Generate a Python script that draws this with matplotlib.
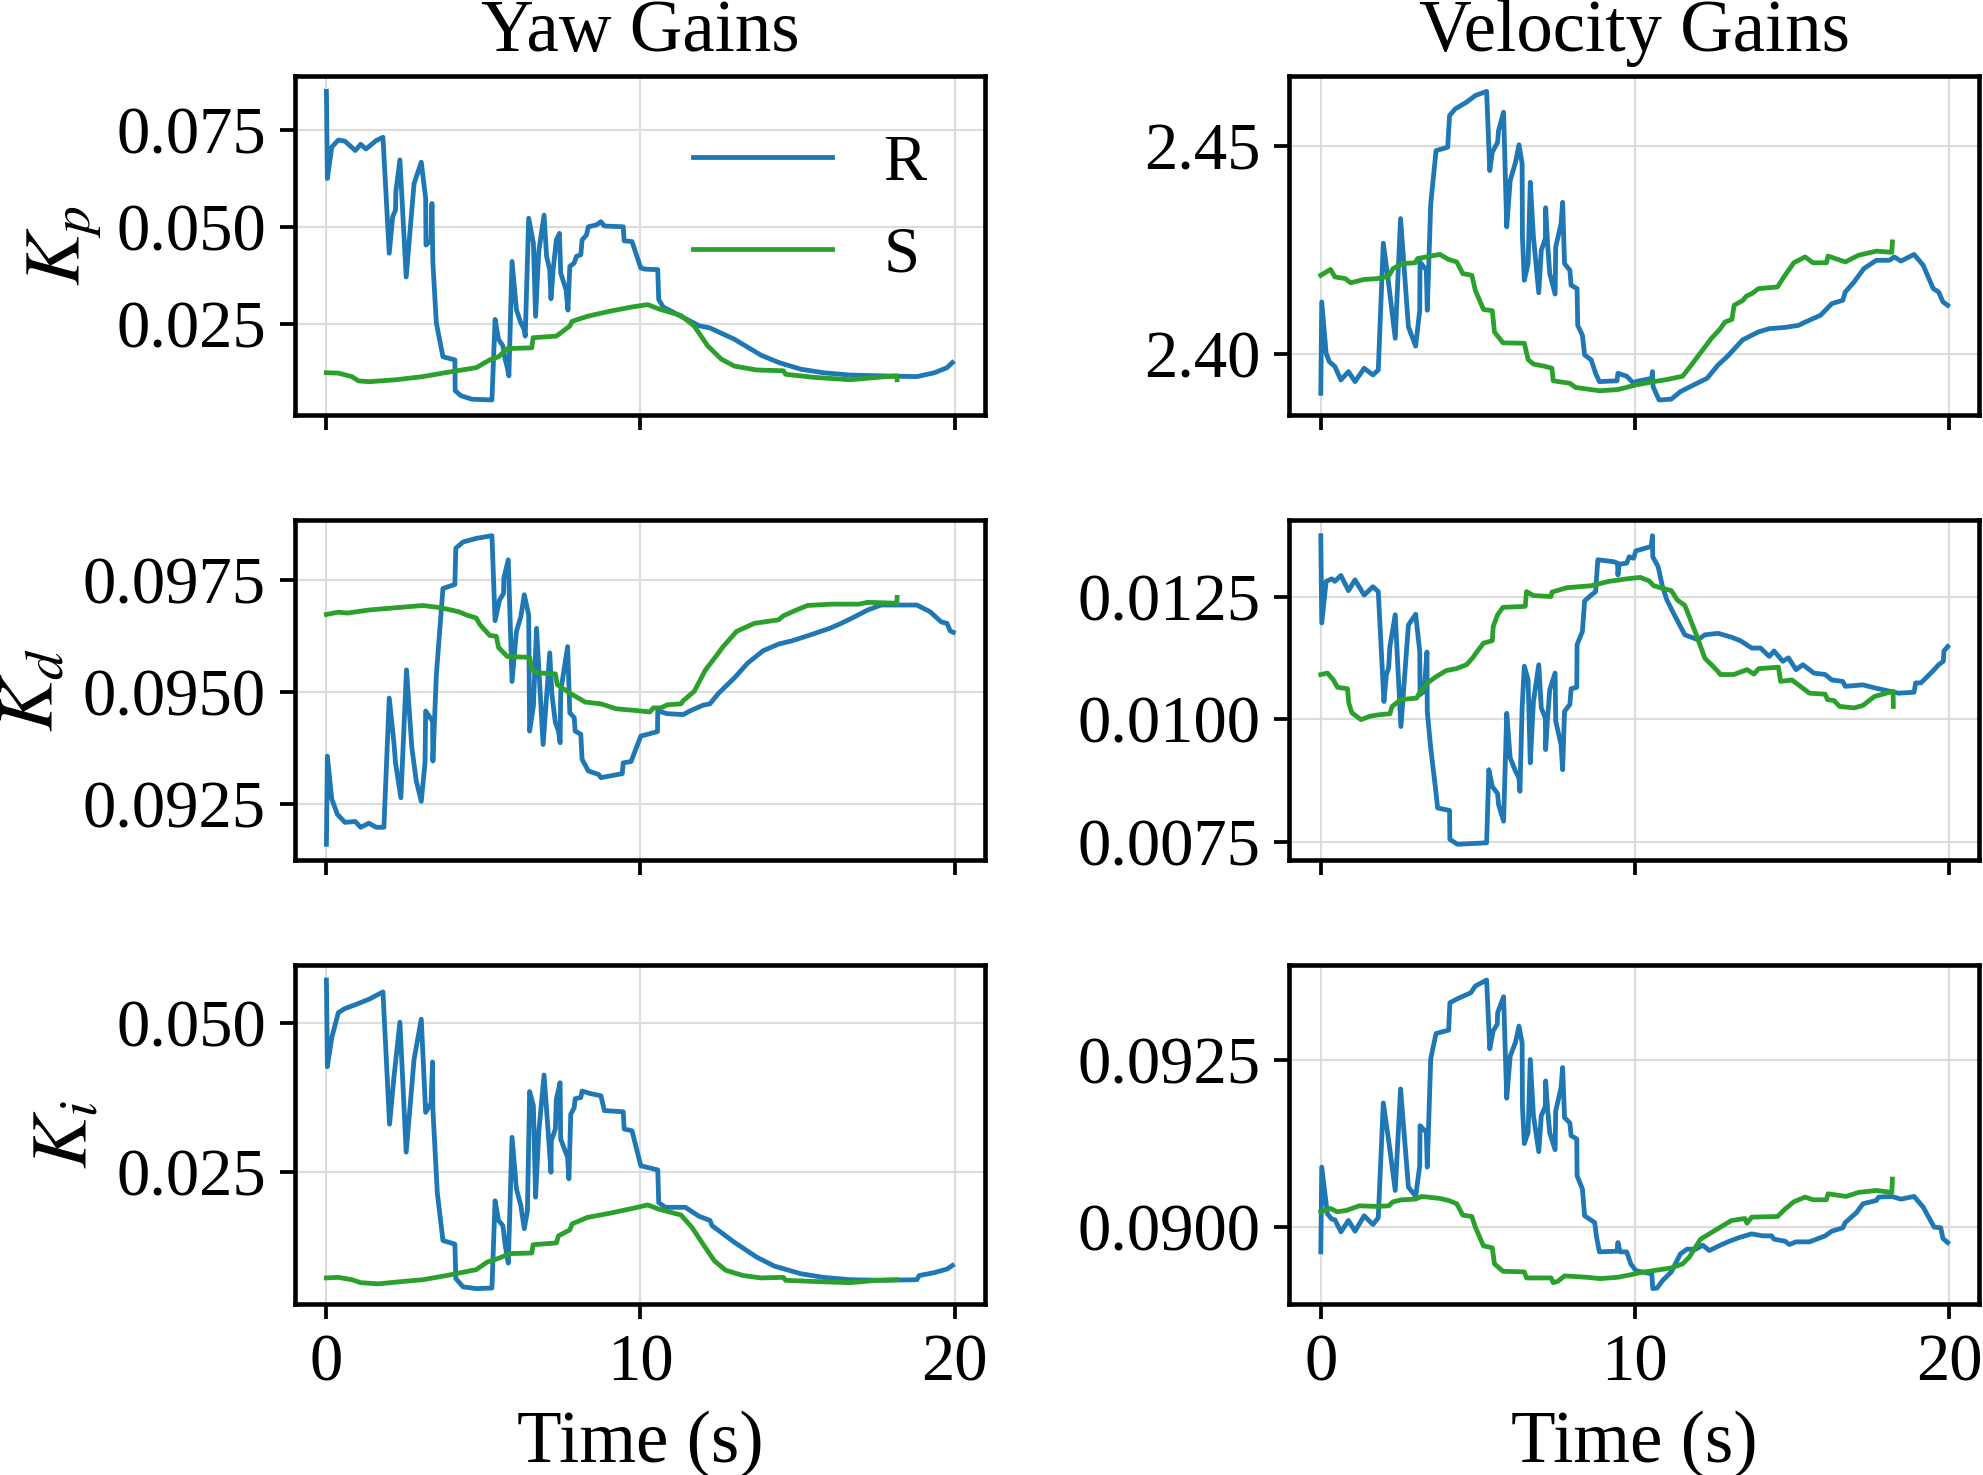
import numpy as np
import matplotlib
matplotlib.use("Agg")
from matplotlib import pyplot as plt

plt.rcParams['font.family'] = 'serif'
plt.rcParams['font.serif'] = ['Liberation Serif', 'DejaVu Serif']
plt.rcParams['mathtext.fontset'] = 'stix'

# (time [s], gain) pairs
yaw_kp_r = np.array([
    [0.00, 0.0849], [0.03, 0.0625], [0.17, 0.0706], [0.38, 0.0724], [0.59, 0.0721], [0.92, 0.0697],
    [1.09, 0.0713], [1.26, 0.0701], [1.59, 0.0723], [1.80, 0.0731], [2.00, 0.0433], [2.11, 0.0527],
    [2.20, 0.0544], [2.21, 0.0591], [2.34, 0.0673], [2.54, 0.0372], [2.79, 0.0612], [3.02, 0.0667],
    [3.16, 0.0574], [3.17, 0.0454], [3.33, 0.0467], [3.36, 0.0561], [3.39, 0.0408], [3.50, 0.0254],
    [3.71, 0.0167], [4.09, 0.0159], [4.10, 0.0080], [4.28, 0.0067], [4.63, 0.0058], [5.27, 0.0056],
    [5.37, 0.0263], [5.48, 0.0212], [5.62, 0.0195], [5.69, 0.0161], [5.76, 0.0139], [5.81, 0.0118],
    [5.91, 0.0412], [6.05, 0.0288], [6.19, 0.0254], [6.30, 0.0237], [6.33, 0.0220], [6.44, 0.0523],
    [6.59, 0.0459], [6.66, 0.0271], [6.76, 0.0437], [6.93, 0.0531], [7.01, 0.0425], [7.11, 0.0391],
    [7.15, 0.0316], [7.22, 0.0391], [7.32, 0.0467], [7.42, 0.0484], [7.46, 0.0382], [7.63, 0.0339],
    [7.69, 0.0287], [7.75, 0.0399], [7.89, 0.0408], [7.96, 0.0425], [8.10, 0.0429], [8.14, 0.0467],
    [8.28, 0.0480], [8.34, 0.0501], [8.60, 0.0506], [8.74, 0.0514], [8.85, 0.0503], [9.45, 0.0501],
    [9.48, 0.0465], [9.73, 0.0463], [10.01, 0.0395], [10.16, 0.0392], [10.55, 0.0391], [10.58, 0.0314],
    [10.72, 0.0295], [11.29, 0.0271], [11.86, 0.0247], [12.21, 0.0241], [12.99, 0.0212], [13.84, 0.0171],
    [14.41, 0.0152], [15.11, 0.0135], [15.82, 0.0126], [16.67, 0.0120], [17.66, 0.0118], [18.80, 0.0116],
    [19.36, 0.0126], [19.76, 0.0139], [19.93, 0.0152]])
yaw_kp_s = np.array([
    [0.00, 0.0126], [0.38, 0.0125], [0.81, 0.0116], [1.02, 0.0105], [1.37, 0.0103], [2.22, 0.0108],
    [3.07, 0.0116], [3.92, 0.0128], [4.77, 0.0139], [5.20, 0.0159], [5.48, 0.0167], [5.76, 0.0188],
    [6.54, 0.0190], [6.58, 0.0216], [7.32, 0.0220], [7.75, 0.0246], [7.82, 0.0258], [8.31, 0.0271],
    [9.02, 0.0284], [9.73, 0.0295], [10.23, 0.0301], [10.58, 0.0290], [11.29, 0.0273], [11.71, 0.0246],
    [12.14, 0.0195], [12.57, 0.0161], [12.99, 0.0143], [13.70, 0.0133], [14.55, 0.0131], [14.62, 0.0122],
    [15.54, 0.0114], [16.67, 0.0108], [17.52, 0.0114], [18.16, 0.0118], [18.17, 0.0108]])

vel_kp_r = np.array([
    [0.00, 2.3906], [0.03, 2.4125], [0.17, 2.4002], [0.27, 2.3982], [0.45, 2.3970], [0.64, 2.3938],
    [0.88, 2.3958], [1.09, 2.3934], [1.38, 2.3966], [1.66, 2.3950], [1.83, 2.3962], [1.99, 2.4266],
    [2.16, 2.4169], [2.37, 2.4038], [2.54, 2.4325], [2.79, 2.4065], [3.02, 2.4019], [3.15, 2.4105],
    [3.16, 2.4221], [3.36, 2.4201], [3.39, 2.4105], [3.50, 2.4360], [3.67, 2.4488], [4.04, 2.4496],
    [4.10, 2.4572], [4.28, 2.4588], [4.64, 2.4604], [4.92, 2.4620], [5.28, 2.4630], [5.38, 2.4440],
    [5.46, 2.4484], [5.63, 2.4508], [5.66, 2.4536], [5.82, 2.4580], [5.92, 2.4305], [6.03, 2.4416],
    [6.20, 2.4460], [6.31, 2.4502], [6.41, 2.4456], [6.42, 2.4281], [6.48, 2.4177], [6.60, 2.4217],
    [6.67, 2.4412], [6.77, 2.4281], [6.94, 2.4147], [7.02, 2.4249], [7.15, 2.4277], [7.16, 2.4351],
    [7.22, 2.4265], [7.29, 2.4193], [7.46, 2.4144], [7.48, 2.4257], [7.65, 2.4313], [7.70, 2.4364],
    [7.76, 2.4217], [7.93, 2.4201], [7.97, 2.4165], [8.16, 2.4157], [8.18, 2.4069], [8.33, 2.4045],
    [8.40, 2.3998], [8.61, 2.3986], [8.75, 2.3954], [8.87, 2.3934], [9.43, 2.3936], [9.46, 2.3954],
    [9.74, 2.3947], [9.96, 2.3930], [10.03, 2.3934], [10.54, 2.3942], [10.56, 2.3958], [10.58, 2.3922],
    [10.77, 2.3890], [11.16, 2.3892], [11.45, 2.3910], [11.87, 2.3926], [12.30, 2.3942], [12.65, 2.3974],
    [12.94, 2.3994], [13.43, 2.4034], [13.93, 2.4053], [14.28, 2.4061], [14.78, 2.4064], [15.21, 2.4069],
    [15.43, 2.4077], [15.91, 2.4093], [16.27, 2.4121], [16.62, 2.4129], [16.70, 2.4149], [16.98, 2.4173],
    [17.29, 2.4205], [17.69, 2.4225], [18.11, 2.4225], [18.26, 2.4233], [18.47, 2.4223], [18.89, 2.4239],
    [19.18, 2.4213], [19.50, 2.4157], [19.67, 2.4149], [19.81, 2.4125], [19.96, 2.4117]])
vel_kp_s = np.array([
    [0.00, 2.4189], [0.31, 2.4203], [0.45, 2.4185], [0.78, 2.4181], [0.95, 2.4171], [1.38, 2.4179],
    [1.80, 2.4181], [2.16, 2.4187], [2.30, 2.4205], [2.58, 2.4217], [3.01, 2.4219], [3.08, 2.4229],
    [3.36, 2.4233], [3.79, 2.4239], [4.07, 2.4227], [4.33, 2.4221], [4.52, 2.4193], [4.81, 2.4189],
    [4.92, 2.4153], [5.18, 2.4107], [5.46, 2.4104], [5.53, 2.4053], [5.80, 2.4027], [6.48, 2.4026],
    [6.60, 2.3987], [6.77, 2.3976], [7.12, 2.3971], [7.36, 2.3966], [7.40, 2.3936], [7.93, 2.3930],
    [8.11, 2.3920], [8.89, 2.3912], [9.46, 2.3915], [10.03, 2.3926], [10.60, 2.3934], [11.02, 2.3939],
    [11.52, 2.3947], [11.80, 2.3974], [12.16, 2.4010], [12.44, 2.4038], [12.70, 2.4059], [12.87, 2.4077],
    [13.09, 2.4083], [13.16, 2.4117], [13.44, 2.4129], [13.55, 2.4139], [13.72, 2.4145], [13.94, 2.4157],
    [14.54, 2.4161], [14.78, 2.4189], [15.06, 2.4219], [15.42, 2.4233], [15.67, 2.4219], [16.10, 2.4219],
    [16.15, 2.4235], [16.70, 2.4221], [17.12, 2.4237], [17.69, 2.4247], [18.18, 2.4244], [18.20, 2.4269]])

yaw_kd_r = np.array([
    [0.00, 0.09159], [0.03, 0.09356], [0.17, 0.09260], [0.35, 0.09226], [0.59, 0.09208], [0.92, 0.09210],
    [1.09, 0.09197], [1.35, 0.09206], [1.59, 0.09197], [1.83, 0.09197], [2.00, 0.09486], [2.15, 0.09386],
    [2.20, 0.09341], [2.37, 0.09263], [2.55, 0.09549], [2.72, 0.09375], [2.86, 0.09301], [3.02, 0.09255],
    [3.14, 0.09341], [3.16, 0.09457], [3.38, 0.09434], [3.39, 0.09345], [3.50, 0.09538], [3.71, 0.09731],
    [4.09, 0.09740], [4.12, 0.09821], [4.35, 0.09835], [4.77, 0.09843], [5.27, 0.09849], [5.37, 0.09659],
    [5.51, 0.09705], [5.64, 0.09720], [5.65, 0.09754], [5.79, 0.09795], [5.91, 0.09523], [6.05, 0.09635],
    [6.19, 0.09668], [6.30, 0.09717], [6.44, 0.09672], [6.47, 0.09412], [6.59, 0.09468], [6.69, 0.09642],
    [6.90, 0.09382], [7.11, 0.09587], [7.18, 0.09494], [7.29, 0.09431], [7.39, 0.09412], [7.44, 0.09386],
    [7.46, 0.09501], [7.68, 0.09601], [7.75, 0.09453], [7.89, 0.09442], [7.92, 0.09412], [8.10, 0.09405],
    [8.14, 0.09349], [8.34, 0.09323], [8.67, 0.09315], [8.74, 0.09308], [9.42, 0.09317], [9.45, 0.09341],
    [9.70, 0.09344], [10.01, 0.09401], [10.23, 0.09405], [10.54, 0.09411], [10.55, 0.09457], [10.86, 0.09451],
    [11.36, 0.09449], [11.57, 0.09457], [11.99, 0.09470], [12.21, 0.09473], [12.49, 0.09497], [12.99, 0.09531],
    [13.41, 0.09564], [13.91, 0.09592], [14.41, 0.09607], [14.83, 0.09614], [15.40, 0.09627], [16.03, 0.09642],
    [16.39, 0.09653], [16.74, 0.09665], [17.24, 0.09683], [17.66, 0.09694], [18.80, 0.09694], [19.22, 0.09679],
    [19.58, 0.09656], [19.76, 0.09653], [19.86, 0.09636], [19.96, 0.09633]])
yaw_kd_s = np.array([
    [0.00, 0.09673], [0.38, 0.09678], [0.66, 0.09676], [1.37, 0.09683], [2.22, 0.09688], [3.07, 0.09693],
    [3.64, 0.09688], [4.21, 0.09679], [4.49, 0.09671], [4.77, 0.09665], [4.89, 0.09650], [5.20, 0.09626],
    [5.41, 0.09624], [5.48, 0.09599], [5.76, 0.09579], [6.47, 0.09577], [6.54, 0.09549], [6.76, 0.09542],
    [7.29, 0.09540], [7.35, 0.09516], [7.75, 0.09497], [8.24, 0.09477], [8.74, 0.09473], [9.23, 0.09462],
    [9.87, 0.09458], [10.30, 0.09455], [10.41, 0.09464], [10.65, 0.09464], [10.86, 0.09471], [11.29, 0.09473],
    [11.36, 0.09480], [11.71, 0.09501], [12.07, 0.09549], [12.42, 0.09581], [12.63, 0.09601], [13.06, 0.09635],
    [13.62, 0.09653], [14.40, 0.09661], [14.55, 0.09670], [14.97, 0.09683], [15.32, 0.09693], [16.10, 0.09696],
    [16.95, 0.09696], [17.24, 0.09700], [18.16, 0.09698], [18.17, 0.09711]])

vel_kd_r = np.array([
    [0.00, 0.01374], [0.03, 0.01196], [0.17, 0.01281], [0.35, 0.01286], [0.45, 0.01281], [0.64, 0.01293],
    [0.88, 0.01262], [1.09, 0.01284], [1.38, 0.01253], [1.66, 0.01270], [1.83, 0.01260], [2.01, 0.01036],
    [2.09, 0.01092], [2.16, 0.01104], [2.20, 0.01148], [2.37, 0.01213], [2.55, 0.00985], [2.79, 0.01192],
    [3.02, 0.01214], [3.15, 0.01138], [3.16, 0.01050], [3.29, 0.01057], [3.38, 0.01137], [3.39, 0.01016],
    [3.50, 0.00941], [3.65, 0.00860], [3.72, 0.00819], [4.10, 0.00814], [4.11, 0.00755], [4.35, 0.00745],
    [5.28, 0.00748], [5.35, 0.00897], [5.46, 0.00863], [5.63, 0.00848], [5.66, 0.00826], [5.82, 0.00792],
    [5.92, 0.01012], [6.03, 0.00921], [6.20, 0.00894], [6.31, 0.00880], [6.34, 0.00853], [6.41, 0.01023],
    [6.48, 0.01108], [6.60, 0.01080], [6.67, 0.00911], [6.77, 0.01036], [6.94, 0.01111], [7.02, 0.01023],
    [7.15, 0.01002], [7.16, 0.00938], [7.22, 0.01002], [7.29, 0.01060], [7.46, 0.01094], [7.48, 0.00996],
    [7.65, 0.00948], [7.70, 0.00897], [7.76, 0.01016], [7.93, 0.01030], [7.97, 0.01062], [8.15, 0.01065],
    [8.16, 0.01152], [8.33, 0.01179], [8.40, 0.01241], [8.61, 0.01253], [8.75, 0.01260], [8.82, 0.01325],
    [9.32, 0.01321], [9.45, 0.01318], [9.46, 0.01294], [9.50, 0.01316], [9.74, 0.01318], [9.82, 0.01331],
    [9.96, 0.01328], [10.03, 0.01343], [10.52, 0.01352], [10.56, 0.01374], [10.57, 0.01331], [10.74, 0.01311],
    [10.88, 0.01270], [11.02, 0.01243], [11.23, 0.01216], [11.59, 0.01172], [12.01, 0.01162], [12.23, 0.01172],
    [12.65, 0.01175], [13.08, 0.01167], [13.36, 0.01160], [13.72, 0.01145], [14.00, 0.01145], [14.28, 0.01128],
    [14.43, 0.01139], [14.71, 0.01118], [14.89, 0.01125], [15.13, 0.01101], [15.35, 0.01111], [15.70, 0.01094],
    [16.06, 0.01091], [16.27, 0.01080], [16.62, 0.01077], [16.70, 0.01067], [17.26, 0.01070], [17.69, 0.01063],
    [18.40, 0.01053], [18.89, 0.01055], [18.94, 0.01074], [19.11, 0.01074], [19.53, 0.01101], [19.67, 0.01111],
    [19.82, 0.01118], [19.84, 0.01139], [19.96, 0.01148]])
vel_kd_s = np.array([
    [0.00, 0.01091], [0.21, 0.01094], [0.40, 0.01080], [0.53, 0.01065], [0.85, 0.01062], [0.89, 0.01033],
    [0.99, 0.01013], [1.28, 0.00999], [1.56, 0.01006], [1.84, 0.01009], [2.20, 0.01011], [2.27, 0.01026],
    [2.55, 0.01040], [3.05, 0.01043], [3.12, 0.01051], [3.40, 0.01074], [3.68, 0.01087], [3.99, 0.01099],
    [4.31, 0.01103], [4.64, 0.01111], [4.85, 0.01126], [4.92, 0.01133], [5.18, 0.01155], [5.46, 0.01160],
    [5.49, 0.01189], [5.63, 0.01213], [5.80, 0.01228], [6.51, 0.01230], [6.55, 0.01260], [6.77, 0.01252],
    [7.33, 0.01250], [7.36, 0.01259], [7.83, 0.01268], [8.61, 0.01272], [9.18, 0.01281], [9.74, 0.01286],
    [10.17, 0.01289], [10.45, 0.01282], [10.60, 0.01272], [11.16, 0.01262], [11.35, 0.01243], [11.59, 0.01232],
    [11.94, 0.01175], [12.23, 0.01124], [12.44, 0.01111], [12.65, 0.01097], [12.72, 0.01091], [13.15, 0.01091],
    [13.57, 0.01101], [13.79, 0.01092], [13.94, 0.01103], [14.57, 0.01106], [14.64, 0.01077], [15.00, 0.01080],
    [15.56, 0.01053], [16.06, 0.01051], [16.13, 0.01040], [16.34, 0.01038], [16.52, 0.01026], [16.98, 0.01023],
    [17.26, 0.01028], [17.62, 0.01046], [18.22, 0.01057], [18.23, 0.01026]])

yaw_ki_r = np.array([
    [0.00, 0.0573], [0.03, 0.0427], [0.17, 0.0476], [0.38, 0.0518], [0.59, 0.0525], [0.95, 0.0532],
    [1.37, 0.0541], [1.80, 0.0553], [2.01, 0.0330], [2.15, 0.0409], [2.34, 0.0502], [2.54, 0.0283],
    [2.79, 0.0439], [3.02, 0.0507], [3.16, 0.0350], [3.33, 0.0365], [3.38, 0.0435], [3.39, 0.0355],
    [3.53, 0.0215], [3.71, 0.0134], [4.09, 0.0128], [4.12, 0.0070], [4.35, 0.0056], [4.77, 0.0053],
    [5.27, 0.0054], [5.37, 0.0201], [5.48, 0.0168], [5.62, 0.0159], [5.69, 0.0127], [5.79, 0.0096],
    [5.91, 0.0308], [6.05, 0.0221], [6.19, 0.0193], [6.30, 0.0154], [6.40, 0.0184], [6.47, 0.0385],
    [6.59, 0.0361], [6.66, 0.0207], [6.76, 0.0316], [6.93, 0.0413], [7.04, 0.0332], [7.15, 0.0249],
    [7.16, 0.0302], [7.29, 0.0322], [7.32, 0.0372], [7.44, 0.0400], [7.46, 0.0305], [7.68, 0.0274],
    [7.72, 0.0238], [7.78, 0.0347], [7.89, 0.0358], [7.92, 0.0373], [8.10, 0.0375], [8.14, 0.0386],
    [8.38, 0.0382], [8.74, 0.0378], [8.85, 0.0353], [9.45, 0.0351], [9.48, 0.0322], [9.73, 0.0319],
    [10.01, 0.0260], [10.55, 0.0253], [10.58, 0.0198], [10.79, 0.0190], [11.43, 0.0190], [11.86, 0.0175],
    [12.21, 0.0168], [12.28, 0.0159], [12.99, 0.0131], [13.70, 0.0106], [14.26, 0.0091], [15.11, 0.0078],
    [15.82, 0.0072], [16.67, 0.0068], [17.66, 0.0067], [18.80, 0.0068], [18.87, 0.0075], [19.36, 0.0080],
    [19.76, 0.0086], [19.93, 0.0092]])
yaw_ki_s = np.array([
    [0.00, 0.0071], [0.38, 0.0072], [0.81, 0.0068], [1.09, 0.0063], [1.66, 0.0061], [2.22, 0.0064],
    [3.07, 0.0068], [3.92, 0.0076], [4.77, 0.0085], [5.13, 0.0098], [5.48, 0.0104], [5.84, 0.0112],
    [6.54, 0.0113], [6.58, 0.0127], [7.32, 0.0130], [7.39, 0.0142], [7.75, 0.0152], [7.82, 0.0162],
    [8.31, 0.0173], [9.02, 0.0180], [9.73, 0.0188], [10.23, 0.0194], [10.58, 0.0187], [11.29, 0.0177],
    [11.64, 0.0156], [11.99, 0.0128], [12.35, 0.0100], [12.71, 0.0084], [13.27, 0.0075], [13.84, 0.0071],
    [14.55, 0.0072], [14.62, 0.0067], [15.54, 0.0065], [16.67, 0.0063], [17.52, 0.0067], [18.16, 0.0068]])

vel_ki_r = np.array([
    [0.00, 0.08963], [0.03, 0.09090], [0.21, 0.09020], [0.35, 0.09012], [0.45, 0.09011], [0.64, 0.08993],
    [0.88, 0.09010], [1.09, 0.08994], [1.38, 0.09017], [1.66, 0.09004], [1.83, 0.09014], [1.99, 0.09186],
    [2.16, 0.09130], [2.37, 0.09055], [2.54, 0.09207], [2.79, 0.09060], [3.02, 0.09046], [3.15, 0.09092],
    [3.16, 0.09152], [3.36, 0.09142], [3.39, 0.09090], [3.50, 0.09252], [3.67, 0.09290], [4.07, 0.09295],
    [4.11, 0.09336], [4.35, 0.09342], [4.78, 0.09351], [4.92, 0.09361], [5.28, 0.09370], [5.38, 0.09267],
    [5.49, 0.09294], [5.62, 0.09304], [5.63, 0.09321], [5.82, 0.09345], [5.92, 0.09193], [6.03, 0.09256],
    [6.20, 0.09277], [6.31, 0.09301], [6.41, 0.09276], [6.42, 0.09182], [6.48, 0.09125], [6.60, 0.09142],
    [6.67, 0.09251], [6.77, 0.09167], [6.94, 0.09113], [7.02, 0.09167], [7.15, 0.09181], [7.16, 0.09219],
    [7.22, 0.09177], [7.29, 0.09141], [7.46, 0.09116], [7.48, 0.09174], [7.65, 0.09209], [7.70, 0.09239],
    [7.76, 0.09164], [7.93, 0.09156], [7.97, 0.09137], [8.15, 0.09132], [8.16, 0.09077], [8.33, 0.09057],
    [8.40, 0.09017], [8.72, 0.09007], [8.78, 0.08985], [8.87, 0.08963], [9.43, 0.08964], [9.46, 0.08977],
    [9.53, 0.08963], [9.74, 0.08963], [9.87, 0.08945], [10.03, 0.08935], [10.54, 0.08930], [10.57, 0.08908],
    [10.71, 0.08909], [10.88, 0.08920], [11.16, 0.08933], [11.45, 0.08960], [11.66, 0.08967], [11.94, 0.08967],
    [12.16, 0.08973], [12.37, 0.08965], [12.72, 0.08973], [13.01, 0.08979], [13.36, 0.08985], [13.72, 0.08990],
    [14.07, 0.08987], [14.35, 0.08987], [14.43, 0.08982], [14.78, 0.08979], [14.92, 0.08974], [15.13, 0.08978],
    [15.56, 0.08978], [16.06, 0.08987], [16.27, 0.08994], [16.62, 0.08999], [16.70, 0.09007], [17.06, 0.09022],
    [17.26, 0.09035], [17.69, 0.09040], [17.76, 0.09045], [18.18, 0.09046], [18.47, 0.09042], [18.89, 0.09046],
    [19.18, 0.09030], [19.53, 0.09000], [19.74, 0.08999], [19.81, 0.08983], [19.96, 0.08977]])
vel_ki_s = np.array([
    [0.00, 0.09023], [0.31, 0.09028], [0.52, 0.09023], [0.81, 0.09025], [1.23, 0.09032], [1.80, 0.09031],
    [2.16, 0.09032], [2.30, 0.09038], [2.58, 0.09041], [3.01, 0.09042], [3.22, 0.09046], [3.79, 0.09043],
    [4.07, 0.09040], [4.33, 0.09035], [4.52, 0.09018], [4.81, 0.09016], [4.92, 0.09000], [5.18, 0.08972],
    [5.46, 0.08969], [5.53, 0.08945], [5.80, 0.08934], [6.48, 0.08933], [6.55, 0.08924], [7.33, 0.08924],
    [7.40, 0.08917], [7.55, 0.08919], [7.76, 0.08927], [8.47, 0.08925], [8.89, 0.08923], [9.46, 0.08925],
    [9.89, 0.08929], [10.17, 0.08932], [10.60, 0.08935], [11.16, 0.08939], [11.52, 0.08945], [11.73, 0.08955],
    [12.09, 0.08982], [12.44, 0.08992], [12.72, 0.09000], [13.08, 0.09010], [13.50, 0.09013], [13.57, 0.09006],
    [13.72, 0.09015], [14.54, 0.09016], [14.78, 0.09027], [15.06, 0.09038], [15.42, 0.09045], [15.67, 0.09041],
    [16.10, 0.09041], [16.15, 0.09050], [16.72, 0.09046], [17.12, 0.09052], [17.69, 0.09055], [18.18, 0.09052],
    [18.20, 0.09072]])

col_titles = ['Yaw Gains', 'Velocity Gains']
row_labels = ['$K_p$', '$K_d$', '$K_i$']
yticks = [[[0.025, 0.050, 0.075], [2.40, 2.45]],
          [[0.0925, 0.0950, 0.0975], [0.0075, 0.0100, 0.0125]],
          [[0.025, 0.050], [0.0900, 0.0925]]]
ytick_fmt = [['%.3f', '%.2f'], ['%.4f', '%.4f'], ['%.3f', '%.4f']]
panels = [[(yaw_kp_r, yaw_kp_s), (vel_kp_r, vel_kp_s)],
          [(yaw_kd_r, yaw_kd_s), (vel_kd_r, vel_kd_s)],
          [(yaw_ki_r, yaw_ki_s), (vel_ki_r, vel_ki_s)]]

fig, axes = plt.subplots(3, 2, figsize=(6.61, 4.9167), sharex=True)
fig.subplots_adjust(left=0.1488, right=0.998, bottom=0.1159, top=0.9485, wspace=0.442, hspace=0.309)

for i in range(3):
    for j in range(2):
        ax = axes[i, j]
        r, s = panels[i][j]
        ax.plot(r[:, 0], r[:, 1], color='#1f77b4', lw=1.15, label='R')
        ax.plot(s[:, 0], s[:, 1], color='#2ca02c', lw=1.15, label='S')
        ax.set_yticks(yticks[i][j])
        ax.set_yticklabels([ytick_fmt[i][j] % v for v in yticks[i][j]])
        ax.set_xticks([0, 10, 20])
        ax.grid(True, color='#dcdcdc', lw=0.5)
        ax.tick_params(labelsize=16, width=0.9, length=3.5)
        for sp in ax.spines.values():
            sp.set_linewidth(1.1)
        if j == 0:
            ax.set_ylabel(row_labels[i], fontsize=19, labelpad=3)
        if i == 0:
            ax.set_title(col_titles[j], fontsize=17.5)
        if i == 2:
            ax.set_xlabel('Time (s)', fontsize=17.5)

axes[0, 0].legend(loc='upper right', frameon=False, fontsize=15.5, handlelength=2.15)

fig.savefig('out.png', dpi=300)
